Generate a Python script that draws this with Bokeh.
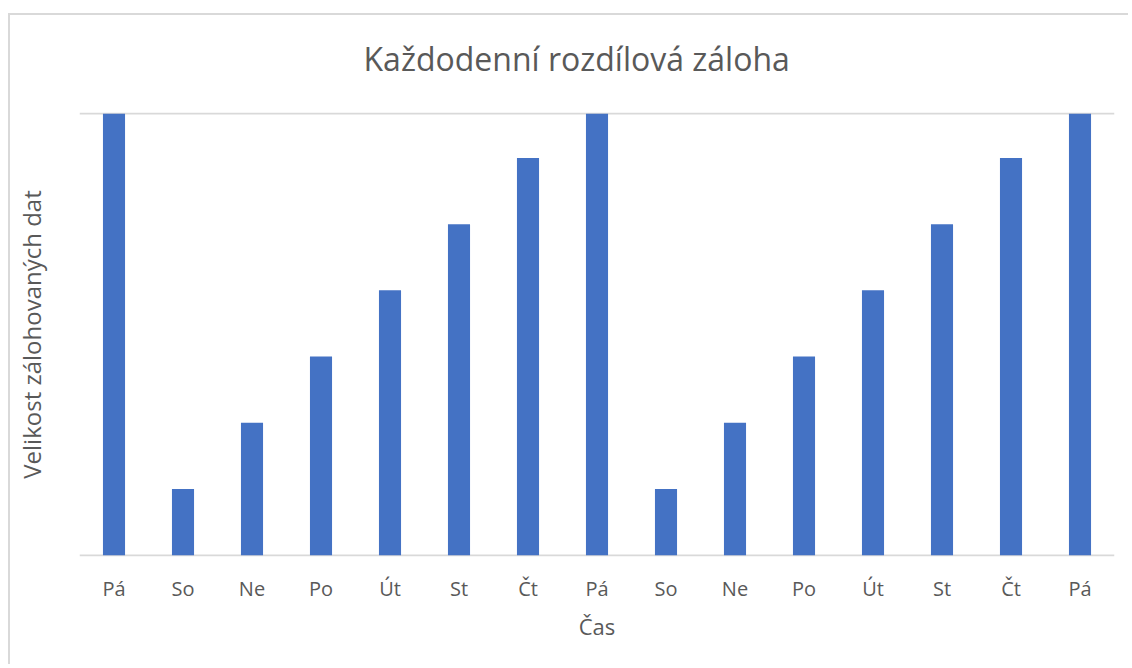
from bokeh.plotting import figure
from bokeh.models import Range1d, FixedTicker
from bokeh.embed import file_html
from bokeh.resources import INLINE

# ---- data ----
days = ["Pá", "So", "Ne", "Po", "Út", "St", "Čt", "Pá", "So", "Ne", "Po", "Út", "St", "Čt", "Pá"]
backup_size = [10, 1.5, 3, 4.5, 6, 7.5, 9, 10, 1.5, 3, 4.5, 6, 7.5, 9, 10]
title_text = "Každodenní rozdílová záloha"
x_label = "Čas"
y_label = "Velikost zálohovaných dat"

FONT = "Open Sans"
TXT = "#595959"
GRID = "#d9d9d9"
BAR = "#4472C4"

xs = list(range(len(days)))

p = figure(width=1128, height=664, output_backend="svg", toolbar_location=None,
           x_range=Range1d(-0.5, len(days) - 0.5), y_range=Range1d(-0.03, 10.03),
           min_border_left=79, min_border_right=14, min_border_top=112, min_border_bottom=108,
           title=title_text)
# chart-area border on the left and top, drawn as inset shadows behind a transparent canvas
p.styles = {"box-shadow": "inset 8px 13px 0 0 #ffffff, inset 10px 15px 0 0 #d9d9d9",
            "background-color": "#ffffff"}
p.outline_line_color = None
p.background_fill_color = "white"
p.border_fill_alpha = 0

p.title.align = "left"
p.title.text_font = FONT
p.title.text_font_style = "normal"
p.title.text_font_size = "32px"
p.title.text_color = TXT
p.title.standoff = 66
p.title.offset = 284

p.vbar(x=xs, top=backup_size, width=0.32, fill_color=BAR, line_color=None)

# grid
p.xgrid.visible = False
p.ygrid.ticker = FixedTicker(ticks=[0, 10])
p.ygrid.grid_line_color = GRID
p.ygrid.grid_line_width = 2
p.ygrid.level = "underlay"

# x axis
p.xaxis.ticker = FixedTicker(ticks=xs)
p.xaxis.major_label_overrides = {i: d for i, d in enumerate(days)}
p.xaxis.axis_line_color = None
p.xaxis.major_tick_line_color = None
p.xaxis.minor_tick_line_color = None
p.xaxis.major_label_text_font = FONT
p.xaxis.major_label_text_font_size = "20px"
p.xaxis.major_label_text_color = TXT
p.xaxis.major_label_standoff = 12
p.xaxis.axis_label = x_label
p.xaxis.axis_label_text_font = FONT
p.xaxis.axis_label_text_font_style = "normal"
p.xaxis.axis_label_text_font_size = "22px"
p.xaxis.axis_label_text_color = TXT
p.xaxis.axis_label_standoff = 6

# y axis (label only)
p.yaxis.ticker = FixedTicker(ticks=[])
p.yaxis.axis_line_color = None
p.yaxis.major_tick_line_color = None
p.yaxis.minor_tick_line_color = None
p.yaxis.major_label_text_font_size = "0px"
p.yaxis.axis_label = y_label
p.yaxis.axis_label_text_font = FONT
p.yaxis.axis_label_text_font_style = "normal"
p.yaxis.axis_label_text_font_size = "24px"
p.yaxis.axis_label_text_color = TXT
p.yaxis.axis_label_standoff = 32

open("out.html", "w").write(file_html(p, INLINE))
